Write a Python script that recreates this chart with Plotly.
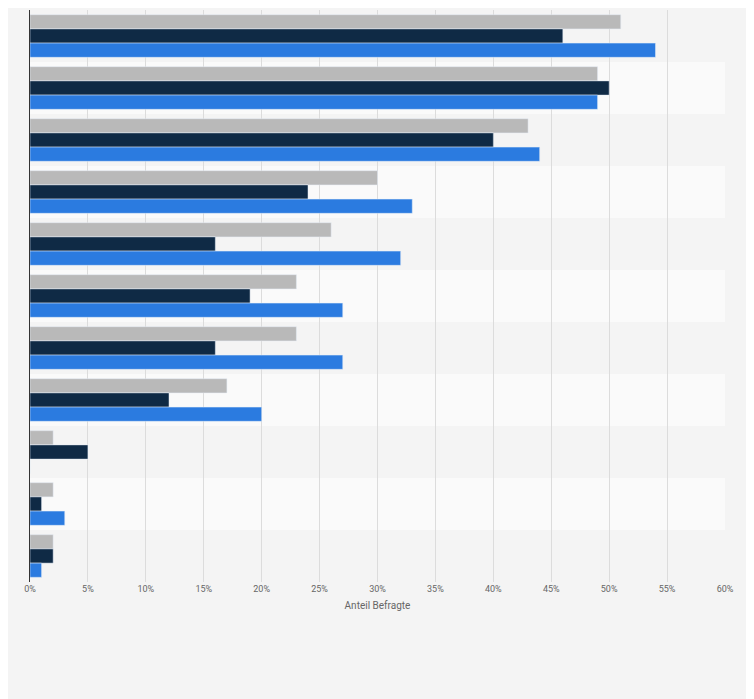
import plotly.graph_objects as go

categories = ["A", "B", "C", "D", "E", "F", "G", "H", "I", "J", "K"]
gray_vals = [51, 49, 43, 30, 26, 23, 23, 17, 2, 2, 2]
dark_vals = [46, 50, 40, 24, 16, 19, 16, 12, 5, 1, 2]
blue_vals = [54, 49, 44, 33, 32, 27, 27, 20, 0, 3, 1]
tick_vals = [0, 5, 10, 15, 20, 25, 30, 35, 40, 45, 50, 55, 60]
tick_text = [f"{v}%" for v in tick_vals]

fig = go.Figure()
for name, vals, col in [("Serie 1", gray_vals, "#b9b9b9"),
                        ("Serie 2", dark_vals, "#0f2a45"),
                        ("Serie 3", blue_vals, "#2b7be0")]:
    fig.add_bar(y=categories, x=vals, orientation="h", name=name, marker_color=col)

# alternating row bands
for i in range(len(categories)):
    fig.add_shape(type="rect", xref="paper", yref="y", x0=0, x1=1, y0=i - 0.5, y1=i + 0.5,
                  fillcolor="#f4f4f4" if i % 2 == 0 else "#fafafa", line_width=0, layer="below")

fig.update_layout(
    width=754, height=699,
    paper_bgcolor="#f4f4f4", plot_bgcolor="#fafafa",
    margin=dict(l=22, r=37, t=2, b=125),
    barmode="group", bargap=0.18, bargroupgap=0,
    showlegend=False,
    font=dict(family="Roboto", size=10, color="#666"),
)
fig.update_xaxes(range=[0, 60], tickvals=tick_vals, ticktext=tick_text,
                 showgrid=True, gridcolor="#dcdcdc", zeroline=False,
                 title=dict(text="Anteil Befragte", font=dict(size=10, color="#666"), standoff=8),
                 tickfont=dict(size=9, color="#666"))
fig.update_yaxes(autorange="reversed", showticklabels=False, showline=True,
                 linecolor="#333", linewidth=1, showgrid=False)

fig.write_html("out.html")
